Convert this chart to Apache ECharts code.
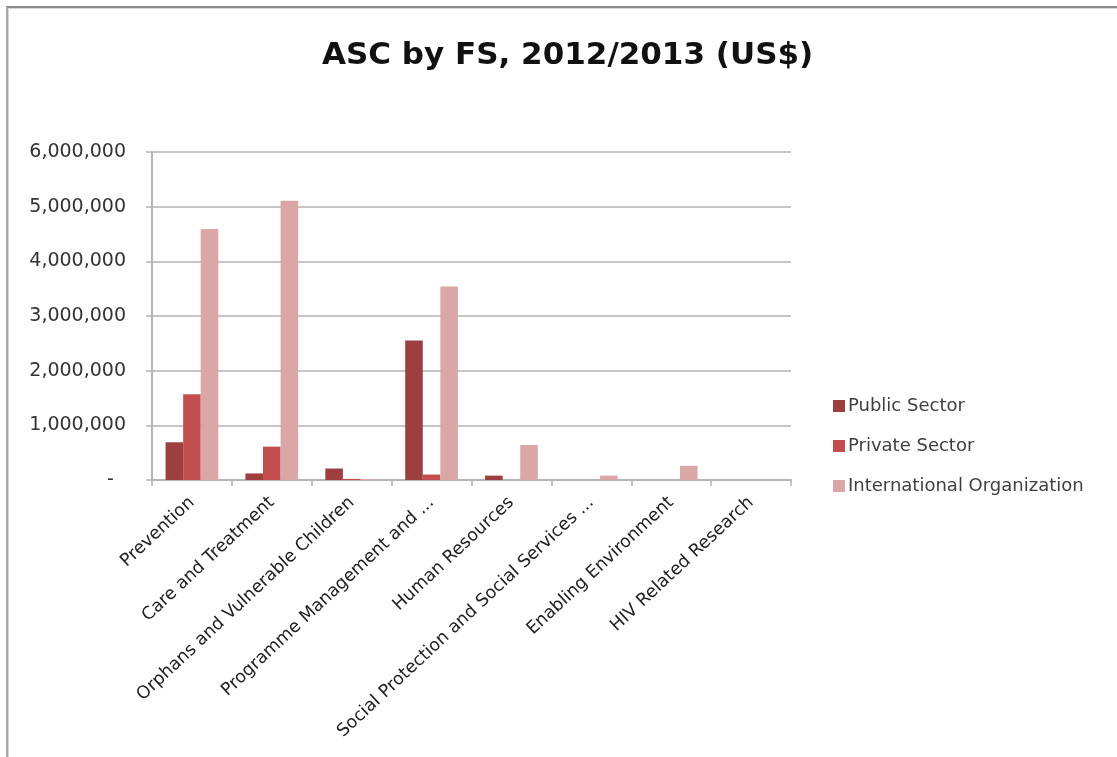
<!DOCTYPE html>
<html>
<head>
<meta charset="utf-8">
<title>ASC by FS, 2012/2013 (US$)</title>
<script src="https://cdn.jsdelivr.net/npm/echarts@6/dist/echarts.min.js"></script>
<style>
  html, body { margin: 0; padding: 0; background: #ffffff; }
  #frame {
    position: absolute; left: 6px; top: 6px; right: 0; bottom: 0;
    border-top: 2px solid #8c8c8c; border-left: 2px solid #a8a8a8;
    box-shadow: inset 1px 1px 0 #d6d6d6;
  }
  #chart { position: absolute; left: 0; top: 0; width: 1117px; height: 757px; }
</style>
</head>
<body>
<div id="frame"></div>
<div id="chart"></div>
<script>
// Spending categories (functions) on the x axis
const categories = [
  'Prevention',
  'Care and Treatment',
  'Orphans and Vulnerable Children',
  'Programme Management and ...',
  'Human Resources',
  'Social Protection and Social Services ...',
  'Enabling Environment',
  'HIV Related Research'
];

// Spending by financing source, US$
const publicSector = [690000, 120000, 210000, 2550000, 80000, 0, 0, 0];
const privateSector = [1570000, 610000, 20000, 100000, 0, 0, 0, 0];
const internationalOrg = [4590000, 5110000, 10000, 3540000, 640000, 80000, 260000, 0];

const seriesNames = ['Public Sector', 'Private Sector', 'International Organization'];
const seriesColors = ['#9c3f3e', '#c24f4e', '#dba6a7'];

const yMax = 6000000;
const yStep = 1000000;

// accounting-style axis numbers: zero shows as a dash
const fmtAxis = v => v === 0 ? '-  ' : v.toLocaleString('en-US');

const chart = echarts.init(document.getElementById('chart'), null, { renderer: 'canvas' });

const valuesBySeries = [publicSector, privateSector, internationalOrg];

chart.setOption({
  animation: false,
  backgroundColor: 'transparent',
  textStyle: { fontFamily: 'DejaVu Sans' },
  title: {
    text: 'ASC by FS, 2012/2013 (US$)',
    left: 317,
    top: 35,
    textStyle: { fontFamily: 'DejaVu Sans', fontWeight: 'bold', fontSize: 31, color: '#111111' }
  },
  legend: {
    orient: 'vertical',
    left: 828,
    top: 392,
    itemWidth: 12,
    itemHeight: 12,
    itemGap: 22,
    icon: 'rect',
    textStyle: { fontFamily: 'DejaVu Sans', fontSize: 18, color: '#404040', padding: [0, 0, 0, -2] },
    data: seriesNames
  },
  grid: { left: 152, right: 326, top: 152, bottom: 277, containLabel: false },
  xAxis: {
    type: 'category',
    data: categories,
    axisLine: { show: true, lineStyle: { color: '#b4b4b4', width: 2 } },
    axisTick: { show: true, alignWithLabel: false, length: 6, lineStyle: { color: '#b4b4b4', width: 1.5 } },
    axisLabel: {
      interval: 0,
      rotate: 43,
      margin: 20,
      fontFamily: 'DejaVu Sans',
      fontSize: 17.5,
      color: '#222222'
    }
  },
  yAxis: {
    type: 'value',
    min: 0,
    max: yMax,
    interval: yStep,
    axisLine: { show: true, lineStyle: { color: '#b4b4b4', width: 2 } },
    axisTick: { show: true, length: 6, lineStyle: { color: '#b4b4b4', width: 1.5 } },
    splitLine: { show: true, lineStyle: { color: '#c6c6c6', width: 2 } },
    axisLabel: {
      margin: 26,
      fontFamily: 'DejaVu Sans',
      fontSize: 19,
      color: '#333333',
      formatter: fmtAxis
    }
  },
  series: seriesNames.map((name, i) => ({
    name,
    type: 'bar',
    data: valuesBySeries[i],
    barGap: '0%',
    barCategoryGap: '34%',
    itemStyle: { color: seriesColors[i] }
  }))
});
</script>
</body>
</html>
